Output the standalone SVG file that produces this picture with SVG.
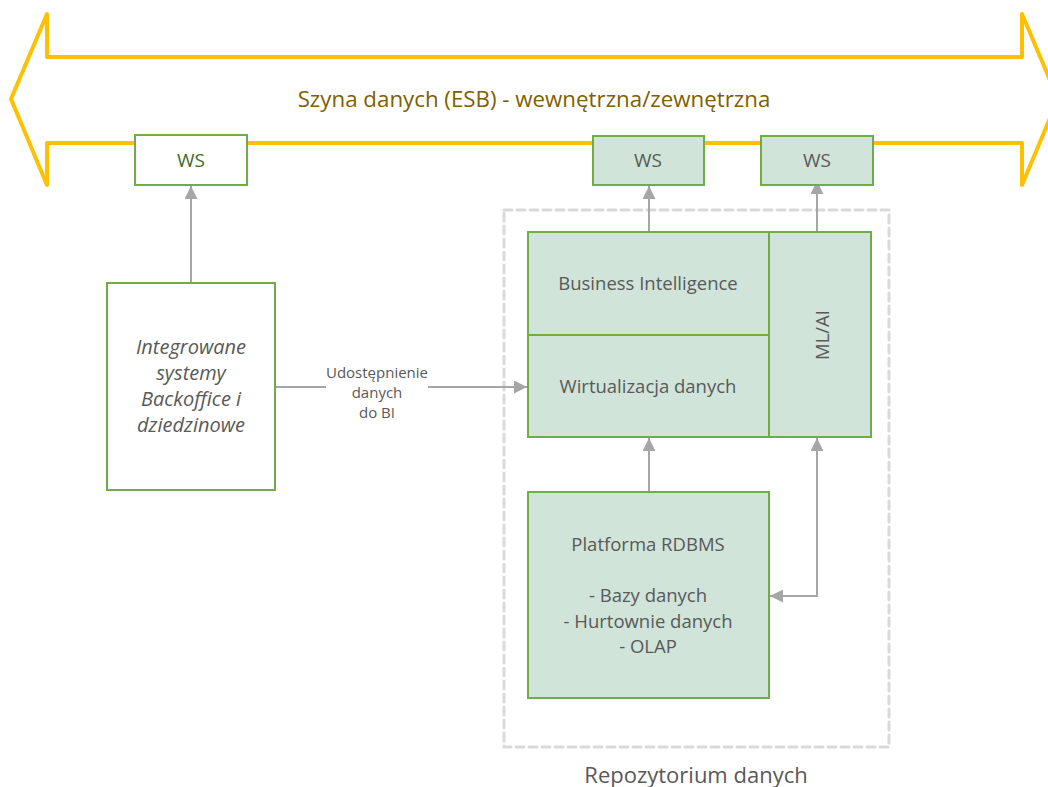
<svg xmlns="http://www.w3.org/2000/svg" width="1048" height="787" viewBox="0 0 1048 787">
<defs>
<style>
.t{font-family:"Open Sans","Liberation Sans",sans-serif;fill:#595959;text-anchor:middle}
.box{fill:#D0E4DA;stroke:#70AD47;stroke-width:2}
.wbox{fill:#FFFFFF;stroke:#70AD47;stroke-width:2}
.con{fill:none;stroke:#A6A6A6;stroke-width:2}
</style>
<marker id="ah" viewBox="0 0 13 13" refX="13" refY="6.5" markerWidth="13" markerHeight="13" markerUnits="userSpaceOnUse" orient="auto-start-reverse">
<path d="M0,0 L13,6.5 L0,13 z" fill="#A6A6A6"/>
</marker>
</defs>
<rect width="1048" height="787" fill="#FFFFFF"/>
<g id="esb">
<polygon points="11,99 47,14 47,57 1022,57 1022,14 1058,99 1022,185 1022,143 47,143 47,185" fill="none" stroke="#FFC000" stroke-width="4" stroke-linejoin="round"/>
<text class="t" x="534" y="107" font-size="22.3" style="fill:#7F6000">Szyna danych (ESB) - wewnętrzna/zewnętrzna</text>
</g>
<g id="repo">
<rect x="504" y="210" width="385" height="537" fill="none" stroke="#D9D9D9" stroke-width="3" stroke-dasharray="8 5" stroke-linecap="round"/>
<text class="t" x="696" y="783" font-size="22">Repozytorium danych</text>
</g>
<g id="connectors">
<path class="con" d="M191,283 V186" marker-end="url(#ah)"/>
<path class="con" d="M649,232 V186" marker-end="url(#ah)"/>
<path class="con" d="M817,232 V181" marker-end="url(#ah)"/>
<path class="con" d="M649,492 V438" marker-end="url(#ah)"/>
<path class="con" d="M770,596 H817 V438" marker-start="url(#ah)" marker-end="url(#ah)"/>
<path class="con" d="M276,387 H527" marker-end="url(#ah)"/>
<rect x="326" y="362" width="102" height="60" fill="#FFFFFF"/>
<text class="t" x="377" y="378" font-size="15">Udostępnienie</text>
<text class="t" x="377" y="398" font-size="15">danych</text>
<text class="t" x="377" y="418" font-size="15">do BI</text>
</g>
<g id="ws1">
<rect class="wbox" x="135" y="135" width="112" height="50"/>
<text class="t" x="191" y="167" font-size="19" style="fill:#3F6B28">WS</text>
</g>
<g id="ws2">
<rect class="box" x="593" y="136" width="111" height="49"/>
<text class="t" x="648" y="167" font-size="19">WS</text>
</g>
<g id="ws3">
<rect class="box" x="761" y="136" width="112" height="49"/>
<text class="t" x="817" y="167" font-size="19">WS</text>
</g>
<g id="integ">
<rect class="wbox" x="107" y="283" width="168" height="207"/>
<text class="t" x="191" y="354" font-size="20" font-style="italic">Integrowane</text>
<text class="t" x="191" y="380" font-size="20" font-style="italic">systemy</text>
<text class="t" x="191" y="406" font-size="20" font-style="italic">Backoffice i</text>
<text class="t" x="191" y="432" font-size="20" font-style="italic">dziedzinowe</text>
</g>
<g id="bi">
<rect class="box" x="528" y="232" width="241" height="103"/>
<text class="t" x="648" y="290" font-size="18.5">Business Intelligence</text>
</g>
<g id="wirt">
<rect class="box" x="528" y="335" width="241" height="102"/>
<text class="t" x="648" y="393" font-size="18.5">Wirtualizacja danych</text>
</g>
<g id="mlai">
<rect class="box" x="769" y="232" width="102" height="205"/>
<text class="t" transform="translate(829,335) rotate(-90)" x="0" y="0" font-size="18.5">ML/AI</text>
</g>
<g id="rdbms">
<rect class="box" x="528" y="492" width="241" height="206"/>
<text class="t" x="648" y="551" font-size="18.5">Platforma RDBMS</text>
<text class="t" x="648" y="602" font-size="18.5">- Bazy danych</text>
<text class="t" x="648" y="628" font-size="18.5">- Hurtownie danych</text>
<text class="t" x="648" y="653" font-size="18.5">- OLAP</text>
</g>
</svg>
